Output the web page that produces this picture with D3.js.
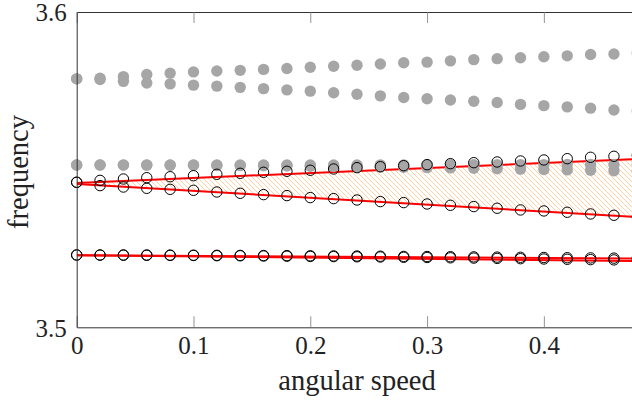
<!DOCTYPE html>
<html><head><meta charset="utf-8">
<script src="https://cdn.jsdelivr.net/npm/d3@7"></script>
<style>body{margin:0;background:#fff}svg{display:block}</style>
</head><body>
<svg id="c" width="632" height="403"></svg>
<script>
// ---- data ----
const speeds = [0,0.02,0.04,0.06,0.08,0.10,0.12,0.14,0.16,0.18,0.20,0.22,0.24,0.26,0.28,0.30,0.32,0.34,0.36,0.38,0.40,0.42,0.44,0.46,0.48];
const grayTopUp = [3.5788,3.5790,3.5795,3.5802,3.5806,3.5810,3.5813,3.5815,3.5818,3.5821,3.5825,3.5828,3.5831,3.5835,3.5839,3.5841,3.5845,3.5849,3.5852,3.5855,3.5858,3.5861,3.5865,3.5867,3.5870];
const grayTopDn = [3.5788,3.5786,3.5780,3.5775,3.5772,3.5768,3.5765,3.5761,3.5757,3.5753,3.5749,3.5744,3.5739,3.5734,3.5729,3.5725,3.5721,3.5717,3.5713,3.5707,3.5703,3.5699,3.5695,3.5689,3.5686];
const grayMidUp = [3.55147,3.55147,3.55147,3.55147,3.55147,3.55147,3.55147,3.55147,3.55147,3.55147,3.55147,3.55149,3.55150,3.55152,3.55153,3.55155,3.55156,3.55157,3.55158,3.55159,3.55160,3.55161,3.55162,3.55163,3.55164];
const grayMidDn = [3.55147,3.55147,3.55145,3.55144,3.55141,3.55138,3.55133,3.55128,3.55122,3.55116,3.55109,3.55101,3.55093,3.55084,3.55074,3.55065,3.55055,3.55043,3.55030,3.55017,3.55005,3.54992,3.54980,3.54967,3.54954];
const circUpUp = [3.54599,3.54660,3.54703,3.54745,3.54776,3.54808,3.54853,3.54884,3.54916,3.54948,3.54980,3.55021,3.55063,3.55094,3.55126,3.55158,3.55190,3.55221,3.55243,3.55275,3.55307,3.55348,3.55392,3.55424,3.55455];
const circUpDn = [3.54599,3.54493,3.54449,3.54408,3.54376,3.54345,3.54291,3.54250,3.54208,3.54177,3.54114,3.54082,3.54038,3.53987,3.53955,3.53911,3.53870,3.53829,3.53775,3.53722,3.53690,3.53649,3.53595,3.53553,3.53512];
const circLoUp = [3.52293,3.52293,3.52293,3.52293,3.52290,3.52287,3.52283,3.52280,3.52277,3.52274,3.52268,3.52264,3.52261,3.52255,3.52248,3.52245,3.52239,3.52233,3.52226,3.52220,3.52214,3.52207,3.52201,3.52194,3.52188];
const circLoDn = [3.52293,3.52290,3.52287,3.52283,3.52280,3.52277,3.52271,3.52268,3.52261,3.52255,3.52248,3.52242,3.52236,3.52230,3.52220,3.52214,3.52204,3.52195,3.52185,3.52176,3.52166,3.52157,3.52147,3.52138,3.52128];
const fitX = [0, 0.48];
const fitUpUp = [3.54577, 3.55335];
const fitUpDn = [3.54545, 3.53498];
const fitLoUp = [3.52284, 3.52182];
const fitLoDn = [3.52284, 3.52103];
const xTicks = [0, 0.1, 0.2, 0.3, 0.4];
const yTicks = [3.5, 3.6];
const xLabel = "angular speed";
const yLabel = "frequency";

// ---- layout ----
const m = {left: 76.7, top: 12, right: 637.3, bottom: 327.3};
const x = d3.scaleLinear().domain([0, 0.48]).range([m.left, m.right]);
const y = d3.scaleLinear().domain([3.5, 3.6]).range([m.bottom, m.top]);
const svg = d3.select("#c");
const FONT = "'Liberation Serif','Times New Roman',serif";

const defs = svg.append("defs");
defs.append("clipPath").attr("id", "plotclip").append("rect")
  .attr("x", m.left).attr("y", m.top).attr("width", m.right - m.left).attr("height", m.bottom - m.top);
const P = 5;
const pat = defs.append("pattern").attr("id", "hatch").attr("patternUnits", "userSpaceOnUse")
  .attr("width", P).attr("height", P);
pat.append("path").attr("d", `M-1,-1 L${P+1},${P+1} M-1,${P-1} L1,${P+1} M${P-1},-1 L${P+1},1`)
  .attr("stroke", "#ffa448").attr("stroke-width", 0.6).attr("stroke-opacity", 0.85);

const plot = svg.append("g").attr("clip-path", "url(#plotclip)");

// hatched band between the two upper fits
const band = fitX.map((v, i) => ({x: v, y0: fitUpDn[i], y1: fitUpUp[i]}));
plot.append("path").datum(band)
  .attr("d", d3.area().x(d => x(d.x)).y0(d => y(d.y0)).y1(d => y(d.y1)))
  .attr("fill", "url(#hatch)");

// gray filled dots
const markers = svg.append("g");
[grayTopUp, grayTopDn, grayMidUp, grayMidDn].forEach(s => {
  markers.append("g").selectAll("circle").data(speeds.map((v, i) => [v, s[i]])).join("circle")
    .attr("cx", d => x(d[0])).attr("cy", d => y(d[1])).attr("r", 5.7).attr("fill", "#a6a6a6");
});

// red fit lines
const line = d3.line().x(d => x(d[0])).y(d => y(d[1]));
[fitUpUp, fitUpDn, fitLoUp, fitLoDn].forEach(s => {
  plot.append("path").datum(fitX.map((v, i) => [v, s[i]]))
    .attr("d", line).attr("fill", "none").attr("stroke", "#ff0000").attr("stroke-width", 2);
});

// black open circles
const circles = svg.append("g");
[circUpUp, circUpDn, circLoUp, circLoDn].forEach(s => {
  circles.append("g").selectAll("circle").data(speeds.map((v, i) => [v, s[i]])).join("circle")
    .attr("cx", d => x(d[0])).attr("cy", d => y(d[1])).attr("r", 5.2)
    .attr("fill", "none").attr("stroke", "#000").attr("stroke-width", 1);
});

// axes
const gx = svg.append("g").attr("transform", `translate(0,${m.bottom})`)
  .call(d3.axisBottom(x).tickValues(xTicks).tickFormat(d3.format("")).tickSizeInner(-11).tickSizeOuter(0).tickPadding(9));
const gt = svg.append("g").attr("transform", `translate(0,${m.top})`)
  .call(d3.axisTop(x).tickValues(xTicks).tickFormat("").tickSizeInner(-11).tickSizeOuter(0));
const gy = svg.append("g").attr("transform", `translate(${m.left},0)`)
  .call(d3.axisLeft(y).tickValues(yTicks).tickFormat(d3.format(".1f")).tickSize(0).tickPadding(10));
const gr = svg.append("g").attr("transform", `translate(${m.right},0)`)
  .call(d3.axisRight(y).tickValues([]).tickSizeOuter(0));

[gx, gt, gy, gr].forEach(g => {
  g.select(".domain").attr("stroke", "#333").attr("stroke-width", 1);
  g.selectAll(".tick line").attr("stroke", "#777").attr("stroke-width", 0.8);
  g.selectAll("text").attr("font-family", FONT).attr("font-size", 25).attr("fill", "#222");
});
gy.selectAll("text").attr("dy", "0.35em");

svg.append("text").attr("x", (m.left + m.right) / 2).attr("y", 390)
  .attr("text-anchor", "middle").attr("font-family", FONT).attr("font-size", 28.5).attr("fill", "#222")
  .text(xLabel);
svg.append("text").attr("transform", "translate(28,172) rotate(-90)")
  .attr("text-anchor", "middle").attr("font-family", FONT).attr("font-size", 28.5).attr("fill", "#222")
  .text(yLabel);
</script>
</body></html>
